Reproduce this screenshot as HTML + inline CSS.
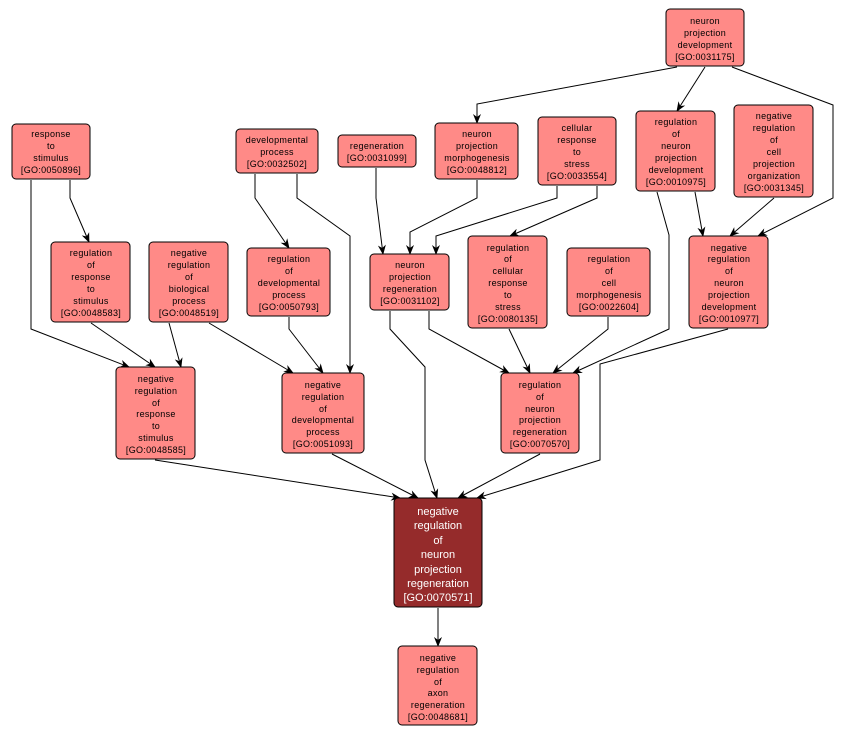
<!DOCTYPE html>
<html><head><style>
html,body{margin:0;padding:0;background:#fff;}
svg{display:block;}
text{font-family:"Liberation Sans",sans-serif;font-size:9px;fill:#000;text-anchor:middle;letter-spacing:0.3px;}
.n{fill:#ff8a87;stroke:#000;stroke-width:1;}
.e{fill:none;stroke:#000;stroke-width:1;}
.m text{fill:#fff;font-size:11px;letter-spacing:0;}
</style></head><body>
<svg width="846" height="737" viewBox="0 0 846 737" xmlns="http://www.w3.org/2000/svg">
<defs><marker id="a" markerWidth="10" markerHeight="10" refX="9" refY="5" orient="auto" markerUnits="userSpaceOnUse"><path d="M0,1 L10,5 L0,9 L3,5 z" fill="#000"/></marker></defs>
<g class="e" marker-end="url(#a)">
<polyline points="677,67 477,104 477,123"/>
<polyline points="705,67 677,111"/>
<polyline points="732,67 833,105 833,198 758,236"/>
<polyline points="70,180 70,198 89,242"/>
<polyline points="31,180 31,329 129,367"/>
<polyline points="255,174 255,198 289,248"/>
<polyline points="297,174 297,198 350,236 350,373"/>
<polyline points="376,168 376,198 383,254"/>
<polyline points="477,180 477,198 410,232 410,254"/>
<polyline points="557,186 557,198 436,236 436,254"/>
<polyline points="597,186 597,198 510,236"/>
<polyline points="657,192 669,235 669,329 573,373"/>
<polyline points="695,192 703,236"/>
<polyline points="774,198 730,236"/>
<polyline points="91,323 155,367"/>
<polyline points="169,323 181,367"/>
<polyline points="209,323 293,373"/>
<polyline points="289,317 289,329 323,373"/>
<polyline points="390,311 390,329 425,367 425,460 437,498"/>
<polyline points="429,311 429,329 509,373"/>
<polyline points="509,329 530,373"/>
<polyline points="608,317 608,329 553,373"/>
<polyline points="728,329 600,364 600,460 477,498"/>
<polyline points="155,460 400,498"/>
<polyline points="332,454 418,498"/>
<polyline points="540,454 458,498"/>
<polyline points="438,608 438,646"/>
</g>
<g>
<rect class="n" x="666" y="9" width="78" height="57" rx="4"/>
<text x="705" y="24">neuron</text><text x="705" y="36">projection</text><text x="705" y="48">development</text><text x="705" y="60">[GO:0031175]</text>

<rect class="n" x="12" y="124" width="78" height="55" rx="4"/>
<text x="51" y="137">response</text><text x="51" y="149">to</text><text x="51" y="161">stimulus</text><text x="51" y="173">[GO:0050896]</text>

<rect class="n" x="236" y="129" width="82" height="44" rx="4"/>
<text x="277" y="143">developmental</text><text x="277" y="155">process</text><text x="277" y="167">[GO:0032502]</text>

<rect class="n" x="338" y="135" width="78" height="32" rx="4"/>
<text x="377" y="149">regeneration</text><text x="377" y="161">[GO:0031099]</text>

<rect class="n" x="435" y="123" width="83" height="56" rx="4"/>
<text x="477" y="137">neuron</text><text x="477" y="149">projection</text><text x="477" y="161">morphogenesis</text><text x="477" y="173">[GO:0048812]</text>

<rect class="n" x="538" y="117" width="78" height="68" rx="4"/>
<text x="577" y="131">cellular</text><text x="577" y="143">response</text><text x="577" y="155">to</text><text x="577" y="167">stress</text><text x="577" y="179">[GO:0033554]</text>

<rect class="n" x="636" y="111" width="79" height="80" rx="4"/>
<text x="676" y="125">regulation</text><text x="676" y="137">of</text><text x="676" y="149">neuron</text><text x="676" y="161">projection</text><text x="676" y="173">development</text><text x="676" y="185">[GO:0010975]</text>

<rect class="n" x="734" y="105" width="79" height="92" rx="4"/>
<text x="774" y="119">negative</text><text x="774" y="131">regulation</text><text x="774" y="143">of</text><text x="774" y="155">cell</text><text x="774" y="167">projection</text><text x="774" y="179">organization</text><text x="774" y="191">[GO:0031345]</text>

<rect class="n" x="51" y="242" width="79" height="80" rx="4"/>
<text x="91" y="256">regulation</text><text x="91" y="268">of</text><text x="91" y="280">response</text><text x="91" y="292">to</text><text x="91" y="304">stimulus</text><text x="91" y="316">[GO:0048583]</text>

<rect class="n" x="149" y="242" width="79" height="80" rx="4"/>
<text x="189" y="256">negative</text><text x="189" y="268">regulation</text><text x="189" y="280">of</text><text x="189" y="292">biological</text><text x="189" y="304">process</text><text x="189" y="316">[GO:0048519]</text>

<rect class="n" x="247" y="248" width="83" height="68" rx="4"/>
<text x="289" y="262">regulation</text><text x="289" y="274">of</text><text x="289" y="286">developmental</text><text x="289" y="298">process</text><text x="289" y="310">[GO:0050793]</text>

<rect class="n" x="370" y="254" width="79" height="56" rx="4"/>
<text x="410" y="268">neuron</text><text x="410" y="280">projection</text><text x="410" y="292">regeneration</text><text x="410" y="304">[GO:0031102]</text>

<rect class="n" x="468" y="236" width="79" height="92" rx="4"/>
<text x="508" y="251">regulation</text><text x="508" y="262">of</text><text x="508" y="274">cellular</text><text x="508" y="286">response</text><text x="508" y="298">to</text><text x="508" y="310">stress</text><text x="508" y="322">[GO:0080135]</text>

<rect class="n" x="567" y="248" width="83" height="68" rx="4"/>
<text x="609" y="262">regulation</text><text x="609" y="274">of</text><text x="609" y="286">cell</text><text x="609" y="298">morphogenesis</text><text x="609" y="310">[GO:0022604]</text>

<rect class="n" x="689" y="236" width="79" height="92" rx="4"/>
<text x="729" y="251">negative</text><text x="729" y="262">regulation</text><text x="729" y="274">of</text><text x="729" y="286">neuron</text><text x="729" y="298">projection</text><text x="729" y="310">development</text><text x="729" y="322">[GO:0010977]</text>

<rect class="n" x="116" y="367" width="79" height="92" rx="4"/>
<text x="156" y="382">negative</text><text x="156" y="394">regulation</text><text x="156" y="406">of</text><text x="156" y="417">response</text><text x="156" y="429">to</text><text x="156" y="441">stimulus</text><text x="156" y="453">[GO:0048585]</text>

<rect class="n" x="282" y="373" width="82" height="80" rx="4"/>
<text x="323" y="388">negative</text><text x="323" y="400">regulation</text><text x="323" y="412">of</text><text x="323" y="423">developmental</text><text x="323" y="435">process</text><text x="323" y="447">[GO:0051093]</text>

<rect class="n" x="501" y="373" width="78" height="80" rx="4"/>
<text x="540" y="388">regulation</text><text x="540" y="400">of</text><text x="540" y="412">neuron</text><text x="540" y="423">projection</text><text x="540" y="435">regeneration</text><text x="540" y="447">[GO:0070570]</text>

<g class="m">
<rect x="394" y="498" width="88" height="109" rx="4" fill="#952b2b" stroke="#000"/>
<text x="438" y="515">negative</text><text x="438" y="529">regulation</text><text x="438" y="544">of</text><text x="438" y="558">neuron</text><text x="438" y="573">projection</text><text x="438" y="587">regeneration</text><text x="438" y="601">[GO:0070571]</text>
</g>

<rect class="n" x="398" y="646" width="79" height="79" rx="4"/>
<text x="438" y="661">negative</text><text x="438" y="673">regulation</text><text x="438" y="685">of</text><text x="438" y="696">axon</text><text x="438" y="708">regeneration</text><text x="438" y="720">[GO:0048681]</text>
</g>
</svg>
</body></html>
